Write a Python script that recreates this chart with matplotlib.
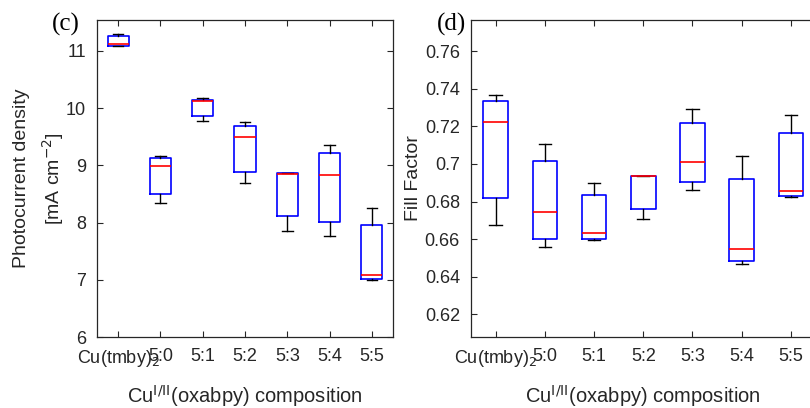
import matplotlib.pyplot as plt
import numpy as np

labels = ['Cu(tmby)$_2$', '5:0', '5:1', '5:2', '5:3', '5:4', '5:5']

# photocurrent density [mA cm-2]
jsc_lo = [11.08, 8.34, 9.77, 8.70, 7.86, 7.76, 7.00]
jsc_q1 = [11.09, 8.50, 9.86, 8.89, 8.11, 8.01, 7.02]
jsc_med = [11.12, 8.99, 10.13, 9.49, 8.85, 8.83, 7.09]
jsc_q3 = [11.26, 9.12, 10.15, 9.69, 8.86, 9.22, 7.96]
jsc_hi = [11.30, 9.16, 10.17, 9.76, 8.87, 9.35, 8.26]

# fill factor
ff_lo = [0.6676, 0.6556, 0.6597, 0.6707, 0.6864, 0.6467, 0.6826]
ff_q1 = [0.6817, 0.6602, 0.6602, 0.6760, 0.6903, 0.6485, 0.6831]
ff_med = [0.7225, 0.6745, 0.6634, 0.6934, 0.7012, 0.6547, 0.6857]
ff_q3 = [0.7334, 0.7016, 0.6834, 0.6936, 0.7220, 0.6922, 0.7162]
ff_hi = [0.7367, 0.7107, 0.6901, 0.6936, 0.7290, 0.7044, 0.7262]

plt.rcParams['font.family'] = ['Liberation Sans', 'DejaVu Sans']
grey = '#262626'


def make_stats(lo, q1, med, q3, hi):
    return [dict(whislo=a, q1=b, med=c, q3=d, whishi=e, fliers=[])
            for a, b, c, d, e in zip(lo, q1, med, q3, hi)]


def draw(ax, stats):
    ax.bxp(stats, positions=np.arange(1, 8), widths=0.5, capwidths=0.25,
           showfliers=False,
           boxprops=dict(color='blue', lw=1.2),
           medianprops=dict(color='red', lw=1.2),
           whiskerprops=dict(color='black', lw=1.0),
           capprops=dict(color='black', lw=1.0))
    ax.set_xlim(0.5, 7.5)
    ax.set_xticks(np.arange(1, 8))
    ax.set_xticklabels(labels)
    ax.tick_params(direction='in', top=True, right=True, length=4,
                   labelsize=13, colors=grey, pad=8)
    for s in ax.spines.values():
        s.set_color(grey)
        s.set_linewidth(0.9)
    ax.set_xlabel(r'Cu$^{\mathrm{I/II}}$(oxabpy) composition', fontsize=14.5,
                  color=grey, labelpad=10)


fig = plt.figure(figsize=(8.1, 4.08), dpi=100)
ax1 = fig.add_axes([97/810, 1 - 337/408, 296/810, 317/408])
ax2 = fig.add_axes([471/810, 1 - 337/408, 344.5/810, 317/408])

draw(ax1, make_stats(jsc_lo, jsc_q1, jsc_med, jsc_q3, jsc_hi))
ax1.set_ylim(6, 11.54)
ax1.set_yticks([6, 7, 8, 9, 10, 11])
ax1.set_ylabel('Photocurrent density\n[mA cm$^{-2}$]', fontsize=14,
               color=grey, labelpad=0, linespacing=1.5)

draw(ax2, make_stats(ff_lo, ff_q1, ff_med, ff_q3, ff_hi))
ax2.set_ylim(0.608, 0.7765)
ax2.set_yticks([0.62, 0.64, 0.66, 0.68, 0.7, 0.72, 0.74, 0.76])
ax2.set_yticklabels(['0.62', '0.64', '0.66', '0.68', '0.7', '0.72', '0.74', '0.76'])
ax2.set_ylabel('Fill Factor', fontsize=14, color=grey, labelpad=2)

fig.text(66/810, 1 - 24/408, '(c)', fontsize=18, family='Liberation Serif',
         ha='center', va='center')
fig.text(452/810, 1 - 24/408, '(d)', fontsize=18, family='Liberation Serif',
         ha='center', va='center')

fig.savefig('out.png', dpi=100)
